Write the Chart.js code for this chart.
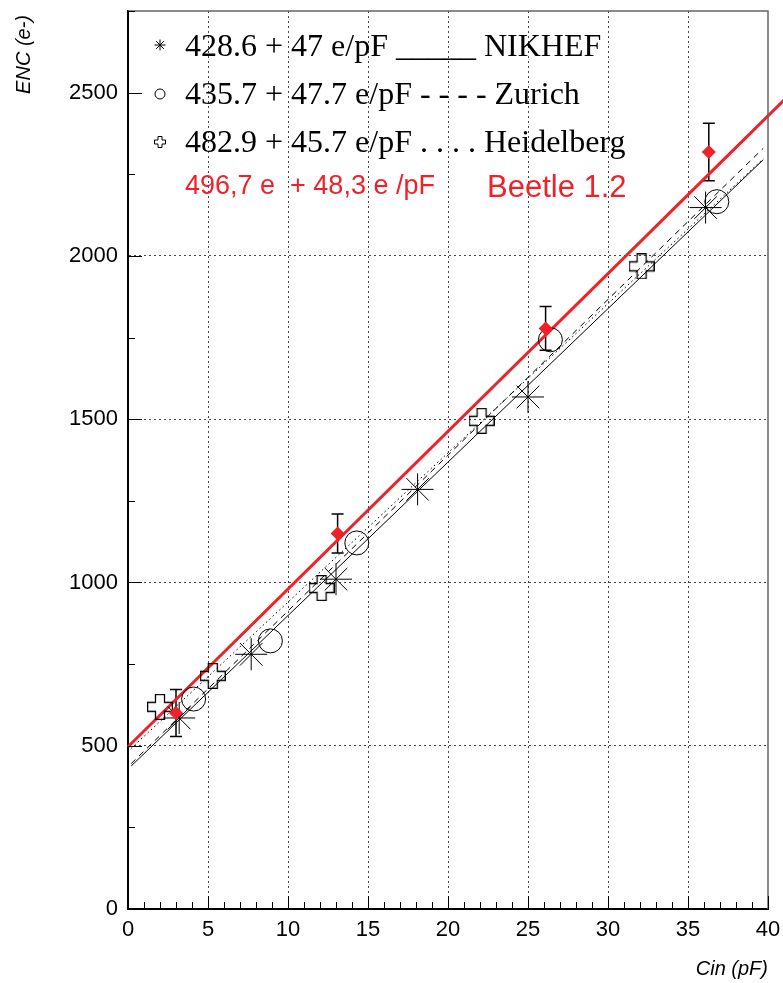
<!DOCTYPE html>
<html>
<head>
<meta charset="utf-8">
<script src="https://cdn.jsdelivr.net/npm/chart.js@4.4.1/dist/chart.umd.min.js"></script>
<style>
    html, body { margin: 0; padding: 0; background: #fff; }
    #wrap { width: 783px; height: 983px; }
</style>
</head>
<body>
<div id="wrap"><canvas id="encChart" width="783" height="983"></canvas></div>
<script>
// measured points, Cin in pF and ENC in electrons
var nikhefCin = [3.2, 7.7, 13.0, 18.1, 25.0, 36.1];
var nikhefEnc = [585, 780, 1010, 1285, 1568, 2148];
var zurichCin = [4.1, 8.9, 14.3, 26.4, 36.8];
var zurichEnc = [643, 821, 1121, 1743, 2166];
var heidelCin = [2.0, 5.3, 12.1, 22.1, 32.1];
var heidelEnc = [619, 714, 983, 1495, 1968];
var beetleCin = [3.0, 13.1, 26.1, 36.3];
var beetleEnc = [600, 1150, 1778, 2318];
var beetleErr = [72, 60, 67, 88];

// straight line fits: ENC = offset + slope * Cin
var fitOffset = [428.6, 435.7, 482.9, 496.7];
var fitSlope = [47, 47.7, 45.7, 48.3];
var fitFrom = [0.2, 0.2, 0.2, 0];
var fitTo = [39.7, 39.7, 39.7, 41];

// legend lines
var legendText = [
    '428.6 + 47 e/pF _____ NIKHEF',
    '435.7 + 47.7 e/pF - - - - Zurich',
    '482.9 + 45.7 e/pF . . . . Heidelberg'
];
var beetleFormula = '496,7 e  + 48,3 e /pF';
var beetleName = 'Beetle 1.2';

// axes
var xTickValues = [0, 5, 10, 15, 20, 25, 30, 35, 40];
var yTickValues = [0, 500, 1000, 1500, 2000, 2500];
var xMinorStep = 1;
var yMinorStep = 250;
var xRange = [0, 40];
var yRange = [0, 2750];

var RED = '#ee2228';
var SANS = '"Liberation Sans", Arial, Helvetica, sans-serif';
var SERIF = '"Liberation Serif", "Times New Roman", serif';

function toPoints(xs, ys) {
    var out = [];
    for (var i = 0; i < xs.length; i++) {
        out.push({x: xs[i], y: ys[i]});
    }
    return out;
}

function fitLine(i) {
    return [
        {x: fitFrom[i], y: fitOffset[i] + fitSlope[i] * fitFrom[i]},
        {x: fitTo[i], y: fitOffset[i] + fitSlope[i] * fitTo[i]}
    ];
}

// hollow "plus" marker (ROOT open cross)
function makeOpenCross(size, arm, lw) {
    var c = document.createElement('canvas');
    c.width = size;
    c.height = size;
    var g = c.getContext('2d');
    var h = size / 2, a = arm / 2, e = lw / 2, s = size - lw / 2;
    g.beginPath();
    g.moveTo(h - a, e); g.lineTo(h + a, e); g.lineTo(h + a, h - a);
    g.lineTo(s, h - a); g.lineTo(s, h + a); g.lineTo(h + a, h + a);
    g.lineTo(h + a, s); g.lineTo(h - a, s); g.lineTo(h - a, h + a);
    g.lineTo(e, h + a); g.lineTo(e, h - a); g.lineTo(h - a, h - a);
    g.closePath();
    g.strokeStyle = '#000';
    g.lineWidth = lw;
    g.stroke();
    return c;
}

var bigCross = makeOpenCross(26, 9, 1.3);
var smallCross = makeOpenCross(12, 4, 1);

function drawStar(ctx, x, y, r) {
    var d = r * Math.SQRT1_2;
    ctx.beginPath();
    ctx.moveTo(x - r, y); ctx.lineTo(x + r, y);
    ctx.moveTo(x, y - r); ctx.lineTo(x, y + r);
    ctx.moveTo(x - d, y - d); ctx.lineTo(x + d, y + d);
    ctx.moveTo(x - d, y + d); ctx.lineTo(x + d, y - d);
    ctx.stroke();
}

var rootStyle = {
    id: 'rootStyle',
    beforeDatasetsDraw: function (chart) {
        var ctx = chart.ctx;
        var xs = chart.scales.x, ys = chart.scales.y;
        ctx.save();
        ctx.strokeStyle = '#000';
        ctx.lineWidth = 1.5;
        for (var i = 0; i < beetleCin.length; i++) {
            var px = xs.getPixelForValue(beetleCin[i]);
            var top = ys.getPixelForValue(beetleEnc[i] + beetleErr[i]);
            var bot = ys.getPixelForValue(beetleEnc[i] - beetleErr[i]);
            ctx.beginPath();
            ctx.moveTo(px, top); ctx.lineTo(px, bot);
            ctx.moveTo(px - 6, top); ctx.lineTo(px + 6, top);
            ctx.moveTo(px - 6, bot); ctx.lineTo(px + 6, bot);
            ctx.stroke();
        }
        ctx.restore();
    },
    afterDraw: function (chart) {
        var ctx = chart.ctx;
        var a = chart.chartArea;
        var xs = chart.scales.x, ys = chart.scales.y;
        var v;
        ctx.save();

        // top and right frame
        ctx.strokeStyle = '#666';
        ctx.lineWidth = 1.5;
        ctx.beginPath();
        ctx.moveTo(a.left, a.top); ctx.lineTo(a.right, a.top); ctx.lineTo(a.right, a.bottom);
        ctx.stroke();

        // ticks pointing into the frame
        ctx.strokeStyle = '#000';
        ctx.lineWidth = 1;
        ctx.beginPath();
        for (v = xRange[0]; v <= xRange[1]; v += xMinorStep) {
            var px = Math.round(xs.getPixelForValue(v)) + 0.5;
            var len = (v % 5 === 0) ? 13 : 7;
            ctx.moveTo(px, a.bottom); ctx.lineTo(px, a.bottom - len);
        }
        for (v = yRange[0]; v <= yRange[1]; v += yMinorStep) {
            var py = Math.round(ys.getPixelForValue(v)) + 0.5;
            var ylen = (v % 500 === 0) ? 14 : 7;
            ctx.moveTo(a.left, py); ctx.lineTo(a.left + ylen, py);
        }
        ctx.stroke();

        // axis titles
        ctx.fillStyle = '#000';
        ctx.font = 'italic 20px ' + SANS;
        ctx.textAlign = 'right';
        ctx.textBaseline = 'alphabetic';
        ctx.fillText('Cin (pF)', a.right, 975);
        ctx.save();
        ctx.translate(30, 15);
        ctx.rotate(-Math.PI / 2);
        ctx.fillText('ENC (e-)', 0, 0);
        ctx.restore();

        // legend
        var rowY = [56, 104, 152];
        ctx.textAlign = 'left';
        ctx.font = '32px ' + SERIF;
        for (var i = 0; i < legendText.length; i++) {
            ctx.fillText(legendText[i], 185, rowY[i]);
        }
        ctx.lineWidth = 1;
        drawStar(ctx, 160, 45, 5.5);
        ctx.beginPath();
        ctx.arc(160, 94, 5, 0, Math.PI * 2);
        ctx.stroke();
        ctx.drawImage(smallCross, 154, 136);

        ctx.fillStyle = RED;
        ctx.font = '27px ' + SANS;
        ctx.fillText(beetleFormula, 185, 194);
        ctx.font = '31px ' + SANS;
        ctx.fillText(beetleName, 487, 197);
        ctx.restore();
    }
};

var gridDots = function (ctx) {
    var n = ctx.chart.scales[ctx.scale.id].ticks.length;
    return (ctx.index === 0 || ctx.index === n - 1) ? 'rgba(0,0,0,0)' : '#444';
};

new Chart(document.getElementById('encChart').getContext('2d'), {
    type: 'scatter',
    data: {
        datasets: [
            {
                label: 'Beetle 1.2',
                data: toPoints(beetleCin, beetleEnc),
                pointStyle: 'rectRot',
                pointRadius: 7,
                backgroundColor: RED,
                borderColor: RED,
                borderWidth: 0
            },
            {
                label: 'NIKHEF',
                data: toPoints(nikhefCin, nikhefEnc),
                pointStyle: 'star',
                pointRadius: 16,
                borderColor: '#000',
                borderWidth: 1
            },
            {
                label: 'Zurich',
                data: toPoints(zurichCin, zurichEnc),
                pointStyle: 'circle',
                pointRadius: 12,
                backgroundColor: 'rgba(0,0,0,0)',
                borderColor: '#000',
                borderWidth: 1
            },
            {
                label: 'Heidelberg',
                data: toPoints(heidelCin, heidelEnc),
                pointStyle: bigCross,
                pointRadius: 13
            },
            {
                label: 'Beetle fit',
                data: fitLine(3),
                showLine: true,
                pointRadius: 0,
                borderColor: RED,
                borderWidth: 3,
                clip: false
            },
            {
                label: 'NIKHEF fit',
                data: fitLine(0),
                showLine: true,
                pointRadius: 0,
                borderColor: '#000',
                borderWidth: 1
            },
            {
                label: 'Zurich fit',
                data: fitLine(1),
                showLine: true,
                pointRadius: 0,
                borderColor: '#000',
                borderWidth: 1,
                borderDash: [6, 5]
            },
            {
                label: 'Heidelberg fit',
                data: fitLine(2),
                showLine: true,
                pointRadius: 0,
                borderColor: '#000',
                borderWidth: 1,
                borderDash: [1.5, 3]
            }
        ]
    },
    options: {
        responsive: false,
        animation: false,
        layout: {autoPadding: false, padding: {top: 11, right: 15, left: 0, bottom: 0}},
        plugins: {
            legend: {display: false},
            tooltip: {enabled: false}
        },
        scales: {
            x: {
                type: 'linear',
                min: xRange[0],
                max: xRange[1],
                afterBuildTicks: function (scale) {
                    scale.ticks = xTickValues.map(function (v) { return {value: v}; });
                },
                afterFit: function (scale) {
                    scale.height = 74;
                    scale.paddingLeft = 0;
                    scale.paddingRight = 0;
                },
                grid: {color: gridDots, lineWidth: 1, drawTicks: false},
                border: {display: true, color: '#000', width: 2, dash: [2, 3]},
                ticks: {
                    autoSkip: false,
                    maxRotation: 0,
                    padding: 8,
                    color: '#000',
                    font: {family: SANS, size: 22},
                    callback: function (value) { return String(value); }
                }
            },
            y: {
                type: 'linear',
                min: yRange[0],
                max: yRange[1],
                afterBuildTicks: function (scale) {
                    scale.ticks = yTickValues.map(function (v) { return {value: v}; });
                },
                afterFit: function (scale) {
                    scale.width = 128;
                    scale.paddingTop = 0;
                    scale.paddingBottom = 0;
                },
                grid: {color: gridDots, lineWidth: 1, drawTicks: false},
                border: {display: true, color: '#000', width: 2, dash: [2, 3]},
                ticks: {
                    padding: 10,
                    color: '#000',
                    font: {family: SANS, size: 22},
                    callback: function (value) { return String(value); }
                }
            }
        }
    },
    plugins: [rootStyle]
});
</script>
</body>
</html>
